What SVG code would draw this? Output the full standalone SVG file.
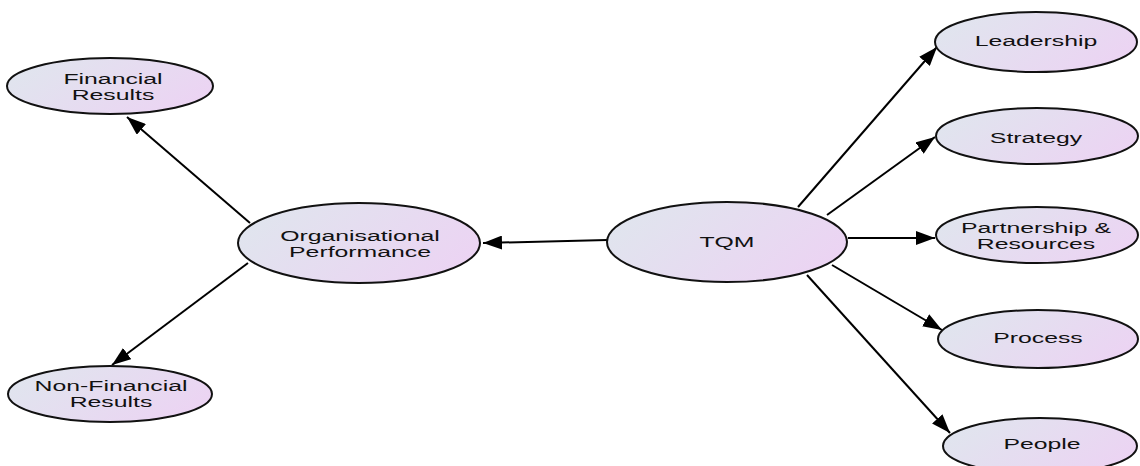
<svg xmlns="http://www.w3.org/2000/svg" width="1140" height="466" viewBox="0 0 1140 466">
<defs>
<linearGradient id="g" x1="0" y1="0.3" x2="1" y2="0.7">
<stop offset="0" stop-color="#e0e5ee"/>
<stop offset="1" stop-color="#ecd3f3"/>
</linearGradient>
<marker id="ah" markerUnits="userSpaceOnUse" markerWidth="20" markerHeight="14" refX="19" refY="7" orient="auto">
<path d="M0,0 L19,7 L0,14 z" fill="#000"/>
</marker>
</defs>
<style>
.n ellipse{fill:url(#g);stroke:#111;stroke-width:2}
.n text{font-family:"Liberation Sans",Arial,sans-serif;font-size:15.5px;fill:#111;text-anchor:middle}
.c line{stroke:#000;stroke-width:2;marker-end:url(#ah)}
</style>
<g id="connectors" class="c">
<line x1="607" y1="240" x2="483" y2="243"/>
<line x1="250" y1="223" x2="127" y2="117"/>
<line x1="248" y1="263" x2="112" y2="365"/>
<line x1="798" y1="207" x2="937" y2="47"/>
<line x1="827" y1="215" x2="935" y2="137"/>
<line x1="848" y1="238" x2="935" y2="238"/>
<line x1="832" y1="265" x2="942" y2="330"/>
<line x1="807" y1="275" x2="950" y2="433"/>
</g>
<g id="financial" class="n">
<ellipse cx="110" cy="86" rx="103" ry="28"/>
<text transform="translate(113,0) scale(1.6,1)"><tspan x="0" y="84">Financial</tspan><tspan x="0" y="100">Results</tspan></text>
</g>
<g id="nonfinancial" class="n">
<ellipse cx="110" cy="394" rx="102" ry="28"/>
<text transform="translate(111,0) scale(1.6,1)"><tspan x="0" y="391">Non-Financial</tspan><tspan x="0" y="407">Results</tspan></text>
</g>
<g id="org" class="n">
<ellipse cx="359" cy="243" rx="121" ry="40"/>
<text transform="translate(360,0) scale(1.6,1)"><tspan x="0" y="241">Organisational</tspan><tspan x="0" y="257">Performance</tspan></text>
</g>
<g id="tqm" class="n">
<ellipse cx="727" cy="242" rx="120" ry="40"/>
<text transform="translate(727,0) scale(1.6,1)" x="0" y="247">TQM</text>
</g>
<g id="leadership" class="n">
<ellipse cx="1036" cy="42" rx="101" ry="30"/>
<text transform="translate(1036,0) scale(1.6,1)" x="0" y="46">Leadership</text>
</g>
<g id="strategy" class="n">
<ellipse cx="1037" cy="136" rx="101" ry="28"/>
<text transform="translate(1036,0) scale(1.6,1)" x="0" y="143">Strategy</text>
</g>
<g id="partnership" class="n">
<ellipse cx="1037" cy="235" rx="101" ry="28"/>
<text transform="translate(1036,0) scale(1.6,1)"><tspan x="0" y="233">Partnership &amp;</tspan><tspan x="0" y="249">Resources</tspan></text>
</g>
<g id="process" class="n">
<ellipse cx="1038" cy="339" rx="100" ry="29"/>
<text transform="translate(1038,0) scale(1.6,1)" x="0" y="343">Process</text>
</g>
<g id="people" class="n">
<ellipse cx="1040" cy="446" rx="97" ry="28"/>
<text transform="translate(1042,0) scale(1.6,1)" x="0" y="449">People</text>
</g>
</svg>
